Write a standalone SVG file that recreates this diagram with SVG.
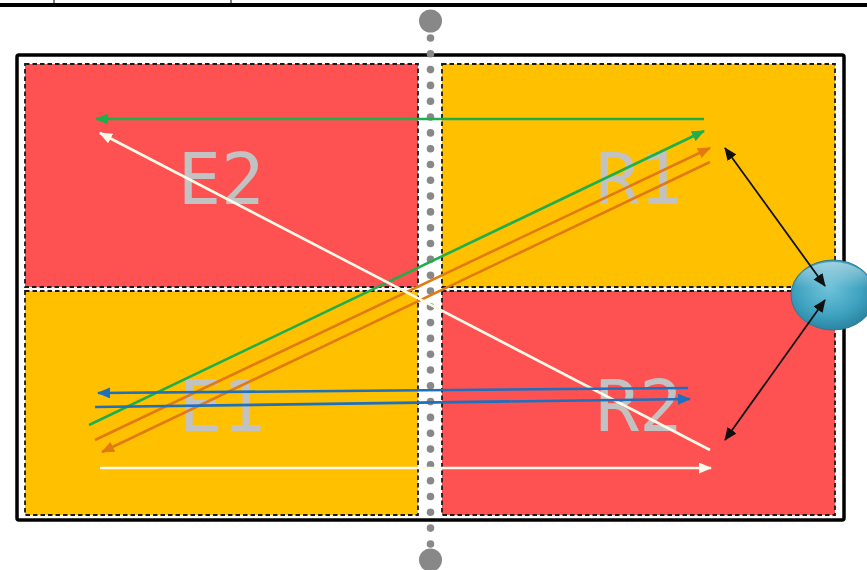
<svg xmlns="http://www.w3.org/2000/svg" width="867" height="570" viewBox="0 0 867 570">
<defs>
<style>
.quad{stroke:#1a1a1a;stroke-width:1.8;stroke-dasharray:4.5 3}
.red{fill:#fe5151}
.org{fill:#ffc000}
.lbl{font-family:"DejaVu Sans Mono","Liberation Mono",monospace;font-size:72px;fill:#c2c2c2;text-anchor:middle}
.dot{fill:#888888}
.ln{fill:none;stroke-width:2.6}
.g{stroke:#1fae4c}
.o{stroke:#e27a12}
.b{stroke:#1e6fbe}
.w{stroke:#fffbea}
.k{stroke:#111111;stroke-width:1.8}
</style>
<marker id="mg" viewBox="0 0 13 11" refX="12" refY="5.5" markerWidth="13" markerHeight="11" markerUnits="userSpaceOnUse" orient="auto"><path d="M0,0 L13,5.5 L0,11 z" fill="#1fae4c"/></marker>
<marker id="mo" viewBox="0 0 13 11" refX="12" refY="5.5" markerWidth="13" markerHeight="11" markerUnits="userSpaceOnUse" orient="auto"><path d="M0,0 L13,5.5 L0,11 z" fill="#e27a12"/></marker>
<marker id="mb" viewBox="0 0 13 11" refX="12" refY="5.5" markerWidth="13" markerHeight="11" markerUnits="userSpaceOnUse" orient="auto"><path d="M0,0 L13,5.5 L0,11 z" fill="#1e6fbe"/></marker>
<marker id="mw" viewBox="0 0 13 11" refX="12" refY="5.5" markerWidth="13" markerHeight="11" markerUnits="userSpaceOnUse" orient="auto"><path d="M0,0 L13,5.5 L0,11 z" fill="#fffbea"/></marker>
<marker id="mk" viewBox="0 0 13 11" refX="12" refY="5.5" markerWidth="13" markerHeight="11" markerUnits="userSpaceOnUse" orient="auto-start-reverse"><path d="M0,0 L13,5.5 L0,11 z" fill="#111111"/></marker>
<radialGradient id="eg" cx="0.45" cy="0.4" r="0.65">
<stop offset="0" stop-color="#6fc3da"/>
<stop offset="0.6" stop-color="#3fa2c0"/>
<stop offset="1" stop-color="#267f9b"/>
</radialGradient>
<linearGradient id="eh" x1="0" y1="0" x2="0" y2="1">
<stop offset="0" stop-color="#ffffff" stop-opacity="0.5"/>
<stop offset="0.5" stop-color="#ffffff" stop-opacity="0"/>
</linearGradient>
</defs>
<rect width="867" height="570" fill="#ffffff"/>
<g id="table-fragment">
<line x1="0" y1="5" x2="867" y2="5" stroke="#000" stroke-width="4"/>
<line x1="54" y1="0" x2="54" y2="4" stroke="#000" stroke-width="1"/>
<line x1="231" y1="0" x2="231" y2="4" stroke="#000" stroke-width="1"/>
</g>
<g id="frame">
<rect x="17" y="55" width="827" height="465" rx="2" fill="#ffffff" stroke="#000" stroke-width="3.5"/>
</g>
<g id="E2"><rect class="quad red" x="25" y="64" width="393" height="223"/><text class="lbl" x="221" y="204">E2</text></g>
<g id="R1"><rect class="quad org" x="442" y="64" width="393" height="223"/><text class="lbl" x="639" y="204">R1</text></g>
<g id="E1"><rect class="quad org" x="25" y="291" width="393" height="224"/><text class="lbl" x="222" y="431">E1</text></g>
<g id="R2"><rect class="quad red" x="442" y="291" width="393" height="224"/><text class="lbl" x="639" y="431">R2</text></g>
<g id="divider">
<circle class="dot" cx="430.5" cy="21" r="11.5"/>
<circle class="dot" cx="430.5" cy="560" r="11.5"/>
<circle class="dot" cx="430.5" cy="38" r="3.8"/><circle class="dot" cx="430.5" cy="53.8" r="3.8"/><circle class="dot" cx="430.5" cy="69.6" r="3.8"/><circle class="dot" cx="430.5" cy="85.4" r="3.8"/><circle class="dot" cx="430.5" cy="101.2" r="3.8"/><circle class="dot" cx="430.5" cy="117" r="3.8"/><circle class="dot" cx="430.5" cy="132.9" r="3.8"/><circle class="dot" cx="430.5" cy="148.7" r="3.8"/><circle class="dot" cx="430.5" cy="164.5" r="3.8"/><circle class="dot" cx="430.5" cy="180.3" r="3.8"/><circle class="dot" cx="430.5" cy="196.1" r="3.8"/><circle class="dot" cx="430.5" cy="211.9" r="3.8"/><circle class="dot" cx="430.5" cy="227.7" r="3.8"/><circle class="dot" cx="430.5" cy="243.5" r="3.8"/><circle class="dot" cx="430.5" cy="259.3" r="3.8"/><circle class="dot" cx="430.5" cy="275.2" r="3.8"/><circle class="dot" cx="430.5" cy="291" r="3.8"/><circle class="dot" cx="430.5" cy="306.8" r="3.8"/><circle class="dot" cx="430.5" cy="322.6" r="3.8"/><circle class="dot" cx="430.5" cy="338.4" r="3.8"/><circle class="dot" cx="430.5" cy="354.2" r="3.8"/><circle class="dot" cx="430.5" cy="370" r="3.8"/><circle class="dot" cx="430.5" cy="385.8" r="3.8"/><circle class="dot" cx="430.5" cy="401.6" r="3.8"/><circle class="dot" cx="430.5" cy="417.4" r="3.8"/><circle class="dot" cx="430.5" cy="433.3" r="3.8"/><circle class="dot" cx="430.5" cy="449.1" r="3.8"/><circle class="dot" cx="430.5" cy="464.9" r="3.8"/><circle class="dot" cx="430.5" cy="480.7" r="3.8"/><circle class="dot" cx="430.5" cy="496.5" r="3.8"/><circle class="dot" cx="430.5" cy="512.3" r="3.8"/><circle class="dot" cx="430.5" cy="528.1" r="3.8"/><circle class="dot" cx="430.5" cy="544" r="3.8"/>
</g>
<g id="hub">
<ellipse cx="833" cy="295" rx="42" ry="35" fill="url(#eg)" stroke="#2a7a93" stroke-width="1"/>
<ellipse cx="833" cy="288" rx="38" ry="26" fill="url(#eh)"/>
</g>
<g id="connectors">
<line class="ln g" x1="704" y1="119" x2="96" y2="119" marker-end="url(#mg)"/>
<line class="ln g" x1="89" y1="425" x2="704" y2="131" marker-end="url(#mg)"/>
<line class="ln o" x1="95" y1="440" x2="710" y2="148" marker-end="url(#mo)"/>
<line class="ln o" x1="710" y1="162" x2="102" y2="452" marker-end="url(#mo)"/>
<line class="ln w" x1="710" y1="450" x2="100" y2="133" marker-end="url(#mw)"/>
<line class="ln w" x1="100" y1="468" x2="711" y2="468" marker-end="url(#mw)"/>
<line class="ln b" x1="688" y1="388" x2="98" y2="393" marker-end="url(#mb)"/>
<line class="ln b" x1="95" y1="407" x2="690" y2="399" marker-end="url(#mb)"/>
<line class="ln k" x1="725" y1="148" x2="825" y2="286" marker-start="url(#mk)" marker-end="url(#mk)"/>
<line class="ln k" x1="825" y1="300" x2="725" y2="440" marker-start="url(#mk)" marker-end="url(#mk)"/>
</g>
</svg>
